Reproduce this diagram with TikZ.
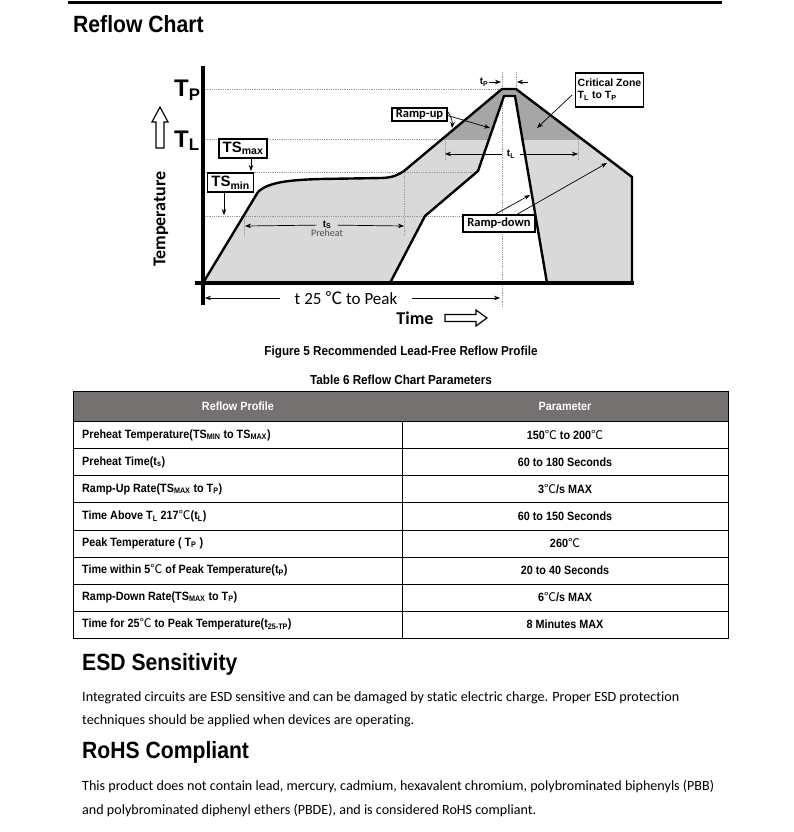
\documentclass[tikz,border=0pt]{standalone}
\usepackage{fontspec}
\setmainfont{Liberation Sans}
\newfontfamily\calfont[Ligatures=NoCommon]{Carlito}
\newfontfamily\headfont[FakeStretch=0.9]{Liberation Sans}
\newfontfamily\cjk{Noto Sans CJK SC}
\newcommand{\degc}{{\cjk\mdseries ℃}}
\usetikzlibrary{positioning,calc,arrows.meta}

\definecolor{zonelight}{RGB}{217,217,217}
\definecolor{zonedark}{RGB}{166,166,166}
\definecolor{headgray}{RGB}{118,113,113}

\newcommand{\outerprofile}{(203,283) -- (258,192) .. controls (268,182) and (290,180) .. (320,179) -- (382,178) .. controls (393,177.5) and (398,175) .. (404,171) -- (502,89) -- (516,89) -- (632,177) -- (632,283)}
\newcommand{\innerprofile}{(390,283) -- (425,216) -- (478,171) -- (504,96) -- (515,96) -- (547,283)}

\tikzset{
  guide/.style={densely dotted, gray!80, line width=0.8pt},
  profile/.style={line width=2.4pt, line join=miter},
  callout/.style={draw, line width=1.3pt, fill=white, inner sep=1pt, font=\calfont\bfseries\fontsize{12.5}{13}\selectfont},
  valbox/.style={draw, line width=1.3pt, fill=white, inner sep=1pt, minimum height=19pt, font=\bfseries\fontsize{15}{16}\selectfont},
  pointer/.style={-{Stealth[length=6pt,width=4.5pt]}, line width=0.7pt},
  smalllbl/.style={font=\bfseries\fontsize{10}{11}\selectfont, inner sep=1pt},
  tabtext/.style={font=\headfont\bfseries\fontsize{12}{13}\selectfont, inner sep=0pt},
  bodytext/.style={font=\calfont\fontsize{14.1}{16}\selectfont, anchor=base west, inner sep=0pt},
  heading/.style={font=\headfont\bfseries\fontsize{23.5}{26}\selectfont, anchor=base west, inner sep=0pt},
}

\begin{document}
\begin{tikzpicture}[x=1pt,y=-1pt]
\useasboundingbox (0,0) rectangle (793,832);
\fill[white] (0,0) rectangle (793,832);

\draw[line width=3pt] (68,3) -- (722,3);
\node[heading] (chartttl) at (73,33) {Reflow Chart};

% zones
\fill[zonelight] \outerprofile -- cycle;
\begin{scope}
\clip (190,60) rectangle (640,139);
\fill[zonedark] \outerprofile -- cycle;
\end{scope}
\fill[white] \innerprofile -- cycle;

% guide lines
\draw[guide] (205,89) -- (502,89);
\draw[guide] (205,139) -- (445,139);
\draw[guide] (205,172) -- (478,172);
\draw[guide] (205,216) -- (463,216);
\draw[guide] (502,72) -- (502,307);
\draw[guide] (516,72) -- (516,89);
\draw[guide] (244,216) -- (244,236);
\draw[guide] (404,172) -- (404,236);
\draw[guide] (445,139) -- (445,160);
\draw[guide] (578,139) -- (578,160);

% profiles and axes
\draw[profile] \outerprofile;
\draw[profile] \innerprofile;
\draw[line width=3.5pt] (203,66) -- (203,305);
\draw[line width=3.5pt] (195,283) -- (634,283);

% axis labels
\node[anchor=base west, inner sep=0, font=\bfseries\fontsize{24}{26}\selectfont] (tplevel) at (174,97) {T\textsubscript{P}};
\node[anchor=base west, inner sep=0, font=\bfseries\fontsize{24}{26}\selectfont] (tllevel) at (174,147) {T\textsubscript{L}};
\draw[line width=1.2pt] (160,107) -- (168,122) -- (164,122) -- (164,148) -- (156,148) -- (156,122) -- (152,122) -- cycle;
\node[rotate=90, font=\calfont\bfseries\fontsize{18}{20}\selectfont] (templbl) at (161,219) {Temperature};

% soak limits
\node[valbox, minimum width=48pt] (tsmax) at (243,148.5) {TS\textsubscript{max}};
\node[valbox, minimum width=46pt] (tsmin) at (230.5,182.5) {TS\textsubscript{min}};
\coordinate (tsmaxhit) at (251,171);
\coordinate (tsminhit) at (224,215);
\draw[pointer] (tsmax.south -| tsmaxhit) -- (tsmaxhit);
\draw[pointer] (tsmin.south -| tsminhit) -- (tsminhit);

% preheat span
\node[smalllbl, inner xsep=6pt] (tslbl) at (327,225) {t\textsubscript{S}};
\node[below=-1pt of tslbl, inner sep=0, font=\calfont\fontsize{10}{11}\selectfont, text=black!70] (preheat) {Preheat};
\coordinate (tsstart) at (245,226);
\coordinate (tsend) at (404,226);
\draw[pointer] (tslbl) -- (tsstart);
\draw[pointer] (tslbl) -- (tsend);

% liquidus span
\node[smalllbl, inner xsep=5pt] (tllbl) at (511,154) {t\textsubscript{L}};
\coordinate (tlstart) at (445,154);
\coordinate (tlend) at (578,154);
\draw[pointer] (tllbl) -- (tlstart);
\draw[pointer] (tllbl) -- (tlend);

% peak span
\node[smalllbl] (tplbl) at (484,82) {t\textsubscript{P}};
\coordinate (tphitl) at (501,82);
\coordinate (tptail) at (528,82);
\coordinate (tphitr) at (517,82);
\draw[pointer] (tplbl.east) -- (tphitl);
\draw[pointer] (tptail) -- (tphitr);

% callouts
\node[callout, minimum width=55pt, minimum height=13pt] (rampup) at (419.5,114.5) {Ramp-up};
\coordinate (rupinner) at (490,128);
\coordinate (rupouter) at (452,128);
\draw[pointer] ([yshift=-1pt]rampup.east) -- (rupinner);
\draw[pointer] ([yshift=3pt]rampup.east) to[bend left=20] (rupouter);

\node[draw, line width=1.3pt, fill=white, align=left, inner sep=2pt, minimum width=67pt, minimum height=34pt, font=\bfseries\fontsize{10.5}{12}\selectfont] (critzone) at (609.5,90) {Critical Zone\\T\textsubscript{L} to T\textsubscript{P}};
\coordinate (critpt) at (537,128);
\draw[pointer] ([shift={(-3,5)}]critzone.west) -- (critpt);

\node[callout, minimum width=72pt, minimum height=17pt] (rampdown) at (499,223.5) {Ramp-down};
\coordinate (rdninner) at (530,195);
\coordinate (rdnouter) at (607,163);
\draw[pointer] ([xshift=-4pt]rampdown.north) -- (rdninner);
\draw[pointer] ([xshift=18pt]rampdown.north) -- (rdnouter);

% time axis
\node[inner xsep=15pt, inner ysep=0pt, font=\calfont\fontsize{17}{18}\selectfont] (t25lbl) at (346,298) {t 25 \degc{} to Peak};
\coordinate (t25start) at (205,298);
\coordinate (t25end) at (500,298);
\draw[pointer] (t25lbl) -- (t25start);
\draw[pointer] (t25lbl) -- (t25end);
\node[font=\calfont\bfseries\fontsize{18}{20}\selectfont] (timelbl) at (415,318) {Time};
\draw[line width=1.2pt] (445,314.5) -- (476,314.5) -- (476,310) -- (487,318) -- (476,326) -- (476,321.5) -- (445,321.5) -- cycle;

% captions
\node[font=\headfont\bfseries\fontsize{13}{14}\selectfont] (figcap) at (401,352) {Figure 5 Recommended Lead-Free Reflow Profile};
\node[font=\headfont\bfseries\fontsize{13}{14}\selectfont] (tabcap) at (401,380) {Table 6 Reflow Chart Parameters};

% table
\fill[headgray] (73,391) rectangle (728,421);
\node[tabtext, text=white] (headprof) at (238,406) {Reflow Profile};
\node[tabtext, text=white] (headpar) at (565,406) {Parameter};
\foreach \i/\name/\val in {
  0/{Preheat Temperature(TS\textsubscript{MIN} to TS\textsubscript{MAX})}/{150\degc{} to 200\degc},
  1/{Preheat Time(t\textsubscript{s})}/{60 to 180 Seconds},
  2/{Ramp-Up Rate(TS\textsubscript{MAX} to T\textsubscript{P})}/{3\degc/s MAX},
  3/{Time Above T\textsubscript{L} 217\degc(t\textsubscript{L})}/{60 to 150 Seconds},
  4/{Peak Temperature ( T\textsubscript{P} )}/{260\degc},
  5/{Time within 5\degc{} of Peak Temperature(t\textsubscript{P})}/{20 to 40 Seconds},
  6/{Ramp-Down Rate(TS\textsubscript{MAX} to T\textsubscript{P})}/{6\degc/s MAX},
  7/{Time for 25\degc{} to Peak Temperature(t\textsubscript{25-TP})}/{8 Minutes MAX}}{
  \node[tabtext, anchor=west] (prof\i) at (82,{435+27*\i}) {\name};
  \node[tabtext] (par\i) at (565,{435+27*\i}) {\val};
}
\foreach \y in {421,448,475,502,530,557,584,611}{\draw[line width=0.8pt] (73,\y) -- (728,\y);}
\draw[line width=1pt] (73,391) rectangle (728,638);
\draw[line width=0.8pt] (402,421) -- (402,638);

% text sections
\node[heading] (esdttl) at (82,670) {ESD Sensitivity};
\node[bodytext] (esdline1) at (82,701) {Integrated circuits are ESD sensitive and can be damaged by static electric charge. Proper ESD protection};
\node[bodytext] (esdline2) at (82,724) {techniques should be applied when devices are operating.};
\node[heading] (rohsttl) at (82,758) {RoHS Compliant};
\node[bodytext] (rohsline1) at (82,790) {This product does not contain lead, mercury, cadmium, hexavalent chromium, polybrominated biphenyls (PBB)};
\node[bodytext] (rohsline2) at (82,814) {and polybrominated diphenyl ethers (PBDE), and is considered RoHS compliant.};

\end{tikzpicture}
\end{document}
